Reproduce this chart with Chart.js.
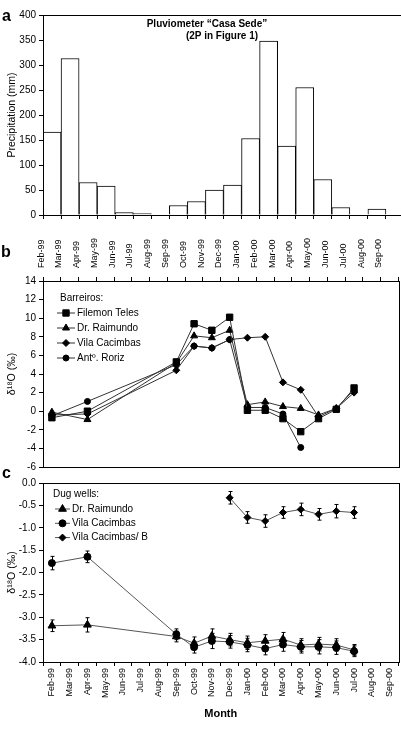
<!DOCTYPE html>
<html lang="en">
<head>
<meta charset="UTF-8">
<title>Casa Sede - precipitation and oxygen isotopes</title>
<script src="https://cdn.jsdelivr.net/npm/chart.js"></script>
<style>
  html, body { margin: 0; padding: 0; background: #fff; }
  body { width: 401px; height: 731px; overflow: hidden; position: relative; font-family: Arial, "Liberation Sans", sans-serif; }
  canvas { position: absolute; left: 0; }
  .tag { position: absolute; font-weight: bold; font-size: 16px; line-height: 16px; }
  .ttl { position: absolute; width: 160px; text-align: center; font-weight: bold; font-size: 10px; line-height: 12px; white-space: nowrap; }
</style>
</head>
<body>
<canvas id="rainChart" width="404" height="225" style="top:0"></canvas>
<canvas id="barreirosChart" width="404" height="255" style="top:225px"></canvas>
<canvas id="wellsChart" width="404" height="261" style="top:470px"></canvas>

<div class="tag" style="left:2px;top:8px">a</div>
<div class="tag" style="left:1px;top:244px">b</div>
<div class="tag" style="left:2px;top:465px">c</div>
<div class="ttl" style="left:127px;top:18px">Pluviometer “Casa Sede”</div>
<div class="ttl" style="left:142px;top:30px">(2P in Figure 1)</div>

<script>
// months on every x axis
const months = ['Feb-99', 'Mar-99', 'Apr-99', 'May-99', 'Jun-99', 'Jul-99', 'Aug-99', 'Sep-99', 'Oct-99', 'Nov-99',
                'Dec-99', 'Jan-00', 'Feb-00', 'Mar-00', 'Apr-00', 'May-00', 'Jun-00', 'Jul-00', 'Aug-00', 'Sep-00'];

// a: monthly rain (mm)
const precipitation = [166, 313, 65, 58, 5, 3, null, 19, 27, 50, 60, 153, 348, 138, 255, 71, 15, null, 12, null];

// b: barreiros d18O
const filemonTeles  = [-0.7, null, 0.0, null, null, null, null, 5.3, 9.4, 8.7, 10.1, 0.1, 0.1, -0.8, -2.2, -0.8, 0.2, 2.5, null, null];
const drRaimundoB   = [-0.1, null, -0.9, null, null, null, null, 5.2, 8.1, 7.9, 8.7, 0.7, 1.0, 0.5, 0.3, -0.4, 0.3, 2.3, null, null];
const vilaCacimbasB = [-0.4, null, -0.3, null, null, null, null, 4.4, 7.0, 6.8, 7.7, 7.9, 8.0, 3.1, 2.3, -0.6, 0.3, 2.0, null, null];
const antRoriz      = [-0.5, null, 1.05, null, null, null, null, 5.0, 7.0, 6.8, 7.7, 0.4, 0.4, -0.3, -3.9, null, null, null, null, null];

// c: dug wells d18O and error
const drRaimundoW    = [-3.19, null, -3.17, null, null, null, null, -3.43, -3.58, -3.42, -3.50, -3.57, -3.53, -3.49, -3.62, -3.60, -3.62, -3.73, null, null];
const drRaimundoErr  = [0.13, null, 0.16, null, null, null, null, 0.12, 0.14, 0.16, 0.14, 0.15, 0.14, 0.15, 0.14, 0.15, 0.14, 0.12, null, null];
const vilaCacimbasW  = [-1.79, null, -1.65, null, null, null, null, -3.38, -3.67, -3.53, -3.55, -3.62, -3.70, -3.61, -3.66, -3.66, -3.68, -3.76, null, null];
const vilaCacimbasErr = [0.15, null, 0.13, null, null, null, null, 0.12, 0.13, 0.17, 0.14, 0.15, 0.14, 0.15, 0.14, 0.16, 0.15, 0.12, null, null];
const vilaCacimbasBW = [null, null, null, null, null, null, null, null, null, null, -0.33, -0.77, -0.85, -0.66, -0.59, -0.70, -0.63, -0.66, null, null];
const vilaCacimbasBErr = [null, null, null, null, null, null, null, null, null, null, 0.14, 0.13, 0.14, 0.13, 0.14, 0.13, 0.15, 0.13, null, null];

const FONT = 'Arial, "Liberation Sans", sans-serif';
Chart.defaults.font.family = FONT;
Chart.defaults.color = '#000';

function yAxis(min, max, step, title, fmt) {
    return {
        min: min, max: max,
        ticks: { stepSize: step, font: { size: 10 }, padding: 3, callback: fmt || (v => v) },
        grid: { drawOnChartArea: false, tickLength: 4, color: '#000' },
        border: { color: '#000' },
        title: { display: true, text: title, font: { size: 10.5 }, padding: { top: 6, bottom: 0 } },
        afterFit: s => { s.width = 43; s.paddingTop = 0; s.paddingBottom = 0; }
    };
}

function xAxis(position, height, showLabels, pad, title) {
    return {
        type: 'category', position: position, offset: true,
        ticks: { display: showLabels, autoSkip: false, minRotation: 90, maxRotation: 90, font: { size: 9 }, padding: pad },
        grid: { offset: true, drawOnChartArea: false, tickLength: 4, color: '#000' },
        border: { color: '#000' },
        title: title ? { display: true, text: title, font: { size: 11, weight: 'bold' }, padding: { top: 0, bottom: 10 } } : { display: false },
        afterFit: s => { s.height = height; s.paddingLeft = 0; s.paddingRight = 0; }
    };
}

function series(label, data, style, radius, color, errors) {
    return {
        label: label, data: data, errors: errors,
        borderColor: color, borderWidth: 1, tension: 0, spanGaps: true,
        pointStyle: style, pointRadius: radius,
        pointBackgroundColor: '#000', pointBorderColor: '#000', pointBorderWidth: 1
    };
}

// box round the plot area
const frame = {
    id: 'frame',
    afterDraw(chart) {
        const { ctx, chartArea: a } = chart;
        ctx.save();
        ctx.strokeStyle = '#000';
        ctx.lineWidth = 1;
        ctx.strokeRect(Math.round(a.left) + 0.5, Math.round(a.top) + 0.5, Math.round(a.right - a.left), Math.round(a.bottom - a.top));
        ctx.restore();
    }
};

// legend drawn inside the plot, top left
const insideLegend = {
    id: 'insideLegend',
    afterDraw(chart, args, o) {
        if (!o.title) return;
        const ctx = chart.ctx;
        ctx.save();
        ctx.font = '10px ' + FONT;
        ctx.fillStyle = '#000';
        ctx.textBaseline = 'middle';
        ctx.textAlign = 'left';
        ctx.fillText(o.title, o.titleX, o.titleY);
        chart.data.datasets.forEach((ds, i) => {
            const y = o.y + i * o.dy;
            ctx.strokeStyle = ds.borderColor;
            ctx.lineWidth = 1;
            ctx.beginPath();
            ctx.moveTo(o.x0, y);
            ctx.lineTo(o.x1, y);
            ctx.stroke();
            ctx.fillStyle = '#000';
            ctx.strokeStyle = '#000';
            Chart.helpers.drawPoint(ctx, { pointStyle: ds.pointStyle, radius: ds.pointRadius, borderWidth: 1, rotation: 0 }, (o.x0 + o.x1) / 2, y);
            ctx.fillText(ds.label, o.textX, y);
        });
        ctx.restore();
    }
};

// vertical error bars from dataset.errors
const errorBars = {
    id: 'errorBars',
    beforeDatasetsDraw(chart) {
        const ctx = chart.ctx, yScale = chart.scales.y;
        ctx.save();
        ctx.strokeStyle = '#000';
        ctx.lineWidth = 1;
        chart.data.datasets.forEach((ds, i) => {
            if (!ds.errors) return;
            chart.getDatasetMeta(i).data.forEach((pt, j) => {
                const v = ds.data[j], e = ds.errors[j];
                if (v == null || e == null) return;
                const x = Math.round(pt.x) + 0.5;
                const y1 = yScale.getPixelForValue(v + e), y2 = yScale.getPixelForValue(v - e);
                ctx.beginPath();
                ctx.moveTo(x, y1); ctx.lineTo(x, y2);
                ctx.moveTo(x - 2, y1); ctx.lineTo(x + 2, y1);
                ctx.moveTo(x - 2, y2); ctx.lineTo(x + 2, y2);
                ctx.stroke();
            });
        });
        ctx.restore();
    }
};

const common = {
    responsive: false,
    animation: false,
    events: []
};

new Chart(document.getElementById('rainChart'), {
    type: 'bar',
    data: {
        labels: months,
        datasets: [{
            label: 'Precipitation',
            data: precipitation,
            backgroundColor: '#fff',
            borderColor: '#000',
            borderWidth: 1,
            categoryPercentage: 1,
            barPercentage: 1
        }]
    },
    options: Object.assign({}, common, {
        layout: { padding: { top: 15, left: 0, right: 0, bottom: 0 } },
        scales: {
            x: xAxis('bottom', 10, false, 0),
            y: yAxis(0, 400, 50, 'Precipitation (mm)')
        },
        plugins: { legend: { display: false }, tooltip: { enabled: false } }
    }),
    plugins: [frame]
});

new Chart(document.getElementById('barreirosChart'), {
    type: 'line',
    data: {
        labels: months,
        datasets: [
            series('Filemon Teles', filemonTeles, 'rect', 4.5, '#333'),
            series('Dr. Raimundo', drRaimundoB, 'triangle', 4, '#333'),
            series('Vila Cacimbas', vilaCacimbasB, 'rectRot', 3.5, '#333'),
            series('Antº. Roriz', antRoriz, 'circle', 3, '#333')
        ]
    },
    options: Object.assign({}, common, {
        layout: { padding: { top: 0, left: 0, right: 0, bottom: 13 } },
        scales: {
            x: xAxis('top', 56, true, 9),
            y: yAxis(-6, 14, 2, 'δ¹⁸O (‰)')
        },
        plugins: {
            legend: { display: false }, tooltip: { enabled: false },
            insideLegend: { title: 'Barreiros:', titleX: 60, titleY: 73, x0: 57, x1: 75, textX: 77, y: 88, dy: 15 }
        }
    }),
    plugins: [frame, insideLegend]
});

new Chart(document.getElementById('wellsChart'), {
    type: 'line',
    data: {
        labels: months,
        datasets: [
            series('Dr. Raimundo', drRaimundoW, 'triangle', 4.5, '#555', drRaimundoErr),
            series('Vila Cacimbas', vilaCacimbasW, 'circle', 3.5, '#555', vilaCacimbasErr),
            series('Vila Cacimbas/ B', vilaCacimbasBW, 'rectRot', 3.5, '#555', vilaCacimbasBErr)
        ]
    },
    options: Object.assign({}, common, {
        layout: { padding: { top: 13, left: 0, right: 0, bottom: 0 } },
        scales: {
            x: xAxis('bottom', 69, true, 2, 'Month'),
            y: yAxis(-4, 0, 0.5, 'δ¹⁸O (‰)', v => v.toFixed(1))
        },
        plugins: {
            legend: { display: false }, tooltip: { enabled: false },
            insideLegend: { title: 'Dug wells:', titleX: 53, titleY: 24, x0: 55, x1: 70, textX: 72, y: 39, dy: 14.3 }
        }
    }),
    plugins: [frame, insideLegend, errorBars]
});
</script>
</body>
</html>
